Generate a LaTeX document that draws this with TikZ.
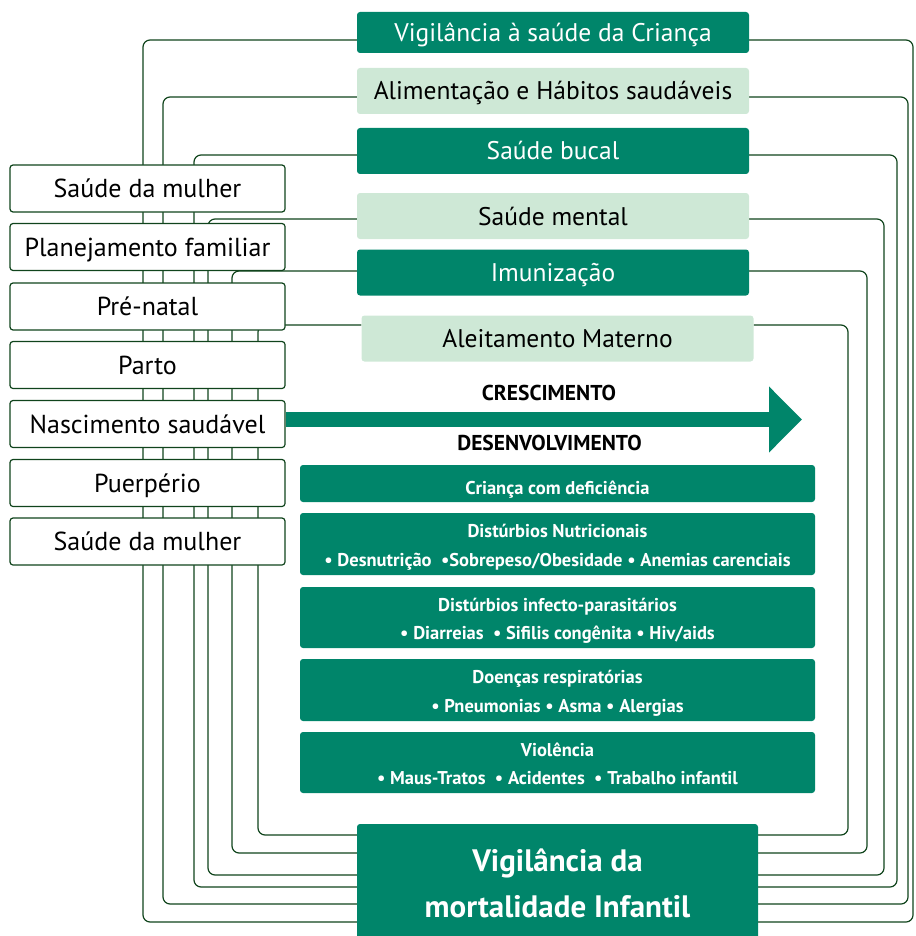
\documentclass[tikz,border=0pt]{standalone}
\usepackage{fontspec}
\setmainfont{PT Sans}
\usetikzlibrary{arrows.meta}
\definecolor{SaudeDark}{RGB}{0,133,106}
\definecolor{SaudeLight}{RGB}{206,232,214}
\definecolor{SaudeLine}{RGB}{16,68,28}
\pgfdeclarelayer{back}
\pgfsetlayers{back,main}
\newcommand{\duaslinhas}[2]{\raisebox{-2.5pt}[\height][\depth]{\begin{tabular}{@{}c@{}}#1\\#2\end{tabular}}}

\begin{document}
\begin{tikzpicture}[x=1pt,y=-1pt,
  dk/.style={fill=SaudeDark,text=white,rounded corners=3pt,minimum width=392pt,minimum height=46pt,inner sep=0pt,text height=18pt,text depth=0pt,font=\fontsize{25.5}{30}\selectfont},
  lt/.style={dk,fill=SaudeLight,text=black},
  wbox/.style={draw=SaudeLine,line width=1.2pt,fill=white,rounded corners=3pt,minimum width=275pt,minimum height=47pt,inner sep=0pt,text height=18.2pt,text depth=0pt,font=\fontsize{26}{30}\selectfont},
  grp/.style={fill=SaudeDark,text=white,rounded corners=3pt,minimum width=515pt,minimum height=#1pt,inner sep=0pt,font=\bfseries\fontsize{18.5}{28.5}\selectfont},
  hdr/.style={font=\bfseries\fontsize{21.5}{24}\selectfont,inner sep=0pt},
  mbox/.style={fill=SaudeDark,text=white,rounded corners=3pt,inner sep=0pt,align=center,font=\bfseries\fontsize{31}{46}\selectfont},
  link/.style={draw=SaudeLine,line width=1.2pt,rounded corners=7pt}]
\useasboundingbox (0,0) rectangle (915,936);
% ações da criança
\node[dk,minimum height=41pt] (vig) at (553,32.5) {Vigilância à saúde da Criança};
\node[lt] (ali) at (553,91) {Alimentação e Hábitos saudáveis};
\node[dk] (buc) at (553,151) {Saúde bucal};
\node[lt] (men) at (553,216) {Saúde mental};
\node[dk] (imu) at (553,272.5) {Imunização};
\node[lt] (ale) at (557.5,338.5) {Aleitamento Materno};
% linha de cuidado da mulher
\foreach \i/\y/\1 in %
{1/188.5/Saúde da mulher,2/247/Planejamento familiar,3/306.5/Pré-natal,4/365/Parto,5/424/Nascimento saudável,6/483/Puerpério,7/541.5/Saúde da mulher} {
   \node[wbox] (w\i) at (147.5,\y) {\1};
}
\node[hdr] (cres) at (549,393) {CRESCIMENTO};
\node[hdr] (desv) at (549.5,443) {DESENVOLVIMENTO};
\coordinate (tip) at (802,419.5);
\draw[SaudeDark,line width=15pt,-{Triangle[length=33pt,width=64pt]}] (w5.east |- tip) -- (tip);
\node[grp=37,text height=22pt,text depth=0pt] (cri) at (557.5,483.5) {Criança com deficiência};
\node[grp=62] (nut) at (557.5,544) {\duaslinhas{Distúrbios Nutricionais}{• Desnutrição \ •Sobrepeso/Obesidade • Anemias carenciais}};
\node[grp=61] (inf) at (557.5,617.5) {\duaslinhas{Distúrbios infecto-parasitários}{• Diarreias \ • Sifilis congênita • Hiv/aids}};
\node[grp=62] (resp) at (557.5,690) {\duaslinhas{Doenças respiratórias}{• Pneumonias • Asma • Alergias}};
\node[grp=61] (viol) at (557.5,762.5) {\duaslinhas{Violência}{• Maus-Tratos \ • Acidentes \ • Trabalho infantil}};
\node[mbox,minimum width=401pt,minimum height=118pt] (mort) at (557.5,883) {Vigilância da\\mortalidade Infantil};
% ligações
\begin{pgfonlayer}{back}
\foreach \n/\y/\l/\r/\b in %
{vig/40/143/913/922,ali/97/163/908/904,buc/155/194/897/887,men/219/208/884/875,imu/271/232/867/853,ale/325/258/848/835} {
   \draw[link] (\n.west |- 0,\y) -| (\l,\b) -- (mort.west |- 0,\b);
   \draw[link] (\n.east |- 0,\y) -| (\r,\b) -- (mort.east |- 0,\b);
}
\end{pgfonlayer}
\end{tikzpicture}
\end{document}
